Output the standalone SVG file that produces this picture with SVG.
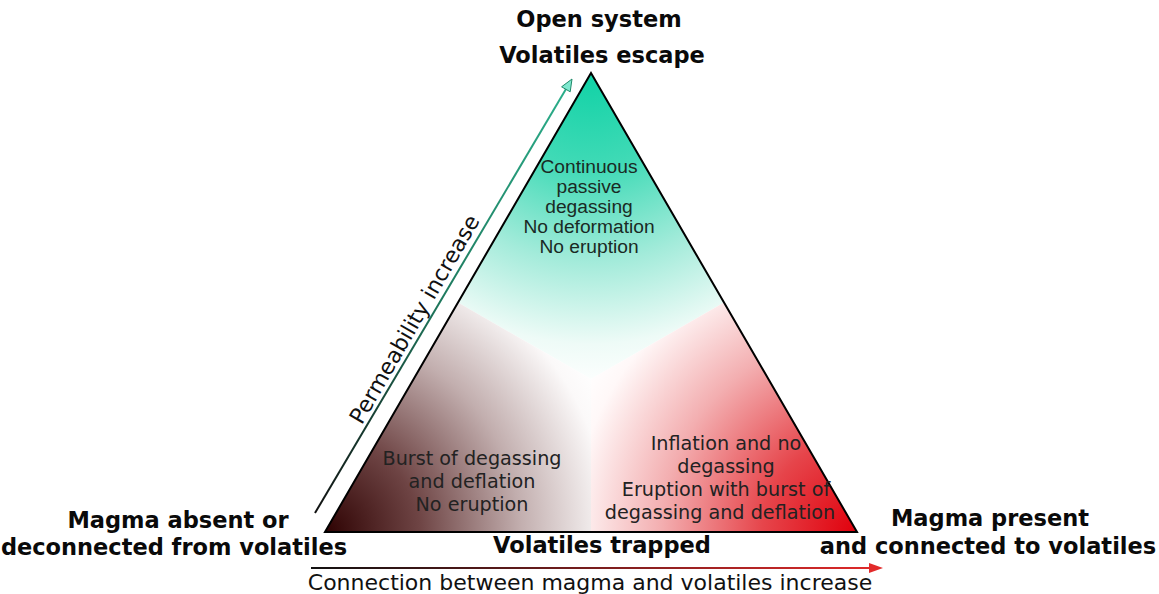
<svg xmlns="http://www.w3.org/2000/svg" width="1159" height="594" viewBox="0 0 1159 594">
<style>
.lbl{font-family:"DejaVu Sans","Verdana",sans-serif;font-weight:bold;font-size:22.5px;fill:#0a0a0a;text-anchor:middle}
.reg{font-family:"DejaVu Sans","Verdana",sans-serif;font-size:19.2px;fill:#222;text-anchor:middle}
.top{font-family:"Liberation Sans",Arial,sans-serif;font-size:19.2px;fill:#1a2a24;text-anchor:middle}
.axis{font-family:"DejaVu Sans","Verdana",sans-serif;font-size:22px;fill:#111;text-anchor:middle}
</style>
<defs>
<radialGradient id="gTop" gradientUnits="userSpaceOnUse" cx="591" cy="73" r="315">
<stop offset="0" stop-color="#10d2a6"/>
<stop offset="0.3" stop-color="#40dab6"/>
<stop offset="0.6" stop-color="#a3ebda"/>
<stop offset="0.86" stop-color="#eefbf7"/>
<stop offset="1" stop-color="#ffffff"/>
</radialGradient>
<radialGradient id="gLeft" gradientUnits="userSpaceOnUse" cx="325" cy="532" r="315">
<stop offset="0" stop-color="#2e0202"/>
<stop offset="0.3" stop-color="#6e4444"/>
<stop offset="0.62" stop-color="#c2aeae"/>
<stop offset="0.9" stop-color="#fbf9f9"/>
<stop offset="1" stop-color="#ffffff"/>
</radialGradient>
<radialGradient id="gRight" gradientUnits="userSpaceOnUse" cx="857" cy="532" r="315">
<stop offset="0" stop-color="#e0000c"/>
<stop offset="0.3" stop-color="#e6454b"/>
<stop offset="0.62" stop-color="#f3aeb0"/>
<stop offset="0.9" stop-color="#fff8f8"/>
<stop offset="1" stop-color="#ffffff"/>
</radialGradient>
<linearGradient id="gPerm" gradientUnits="userSpaceOnUse" x1="315" y1="513" x2="572" y2="79">
<stop offset="0" stop-color="#111"/>
<stop offset="0.5" stop-color="#1e7a5e"/>
<stop offset="1" stop-color="#2bb08c"/>
</linearGradient>
<linearGradient id="gConn" gradientUnits="userSpaceOnUse" x1="311" y1="0" x2="880" y2="0">
<stop offset="0" stop-color="#111"/>
<stop offset="1" stop-color="#e22a2a"/>
</linearGradient>
</defs>

<g id="triangle">
<polygon points="591,73 724,302.5 591,379 458,302.5" fill="url(#gTop)"/>
<polygon points="325,532 458,302.5 591,379 591,532" fill="url(#gLeft)"/>
<polygon points="857,532 591,532 591,379 724,302.5" fill="url(#gRight)"/>
<polygon points="591,73 857,532 325,532" fill="none" stroke="#000" stroke-width="2" stroke-linejoin="miter"/>
</g>

<g id="connectors">
<line x1="315" y1="513" x2="566" y2="89" stroke="url(#gPerm)" stroke-width="2"/>
<polygon points="572,79 570.2,91.8 561.6,86.8" fill="#7fe8cf" stroke="#1e8a6a" stroke-width="1"/>
<line x1="311" y1="568" x2="870" y2="568" stroke="url(#gConn)" stroke-width="2"/>
<polygon points="883,568 869,563 869,573" fill="#e22a2a"/>
</g>

<g id="node-open">
<text class="lbl" x="599" y="27">Open system</text>
<text class="lbl" x="602" y="63">Volatiles escape</text>
</g>
<g id="node-absent">
<text class="lbl" x="178" y="528">Magma absent or</text>
<text class="lbl" x="174" y="555">deconnected from volatiles</text>
</g>
<g id="node-present">
<text class="lbl" x="990" y="526">Magma present</text>
<text class="lbl" x="988" y="554">and connected to volatiles</text>
</g>
<g id="node-trapped">
<text class="lbl" x="602" y="553">Volatiles trapped</text>
</g>

<g id="region-top">
<text class="top" x="589" y="173">Continuous</text>
<text class="top" x="589" y="193">passive</text>
<text class="top" x="589" y="213">degassing</text>
<text class="top" x="589" y="233">No deformation</text>
<text class="top" x="589" y="253">No eruption</text>
</g>
<g id="region-left">
<text class="reg" x="472" y="465">Burst of degassing</text>
<text class="reg" x="472" y="488">and deflation</text>
<text class="reg" x="472" y="511">No eruption</text>
</g>
<g id="region-right">
<text class="reg" x="726" y="450">Inflation and no</text>
<text class="reg" x="726" y="473">degassing</text>
<text class="reg" x="726" y="496">Eruption with burst of</text>
<text class="reg" x="720" y="519">degassing and deflation</text>
</g>

<g id="axis-labels">
<text class="axis" transform="translate(421,323) rotate(-60)">Permeability increase</text>
<text class="axis" x="590" y="590">Connection between magma and volatiles increase</text>
</g>
</svg>
